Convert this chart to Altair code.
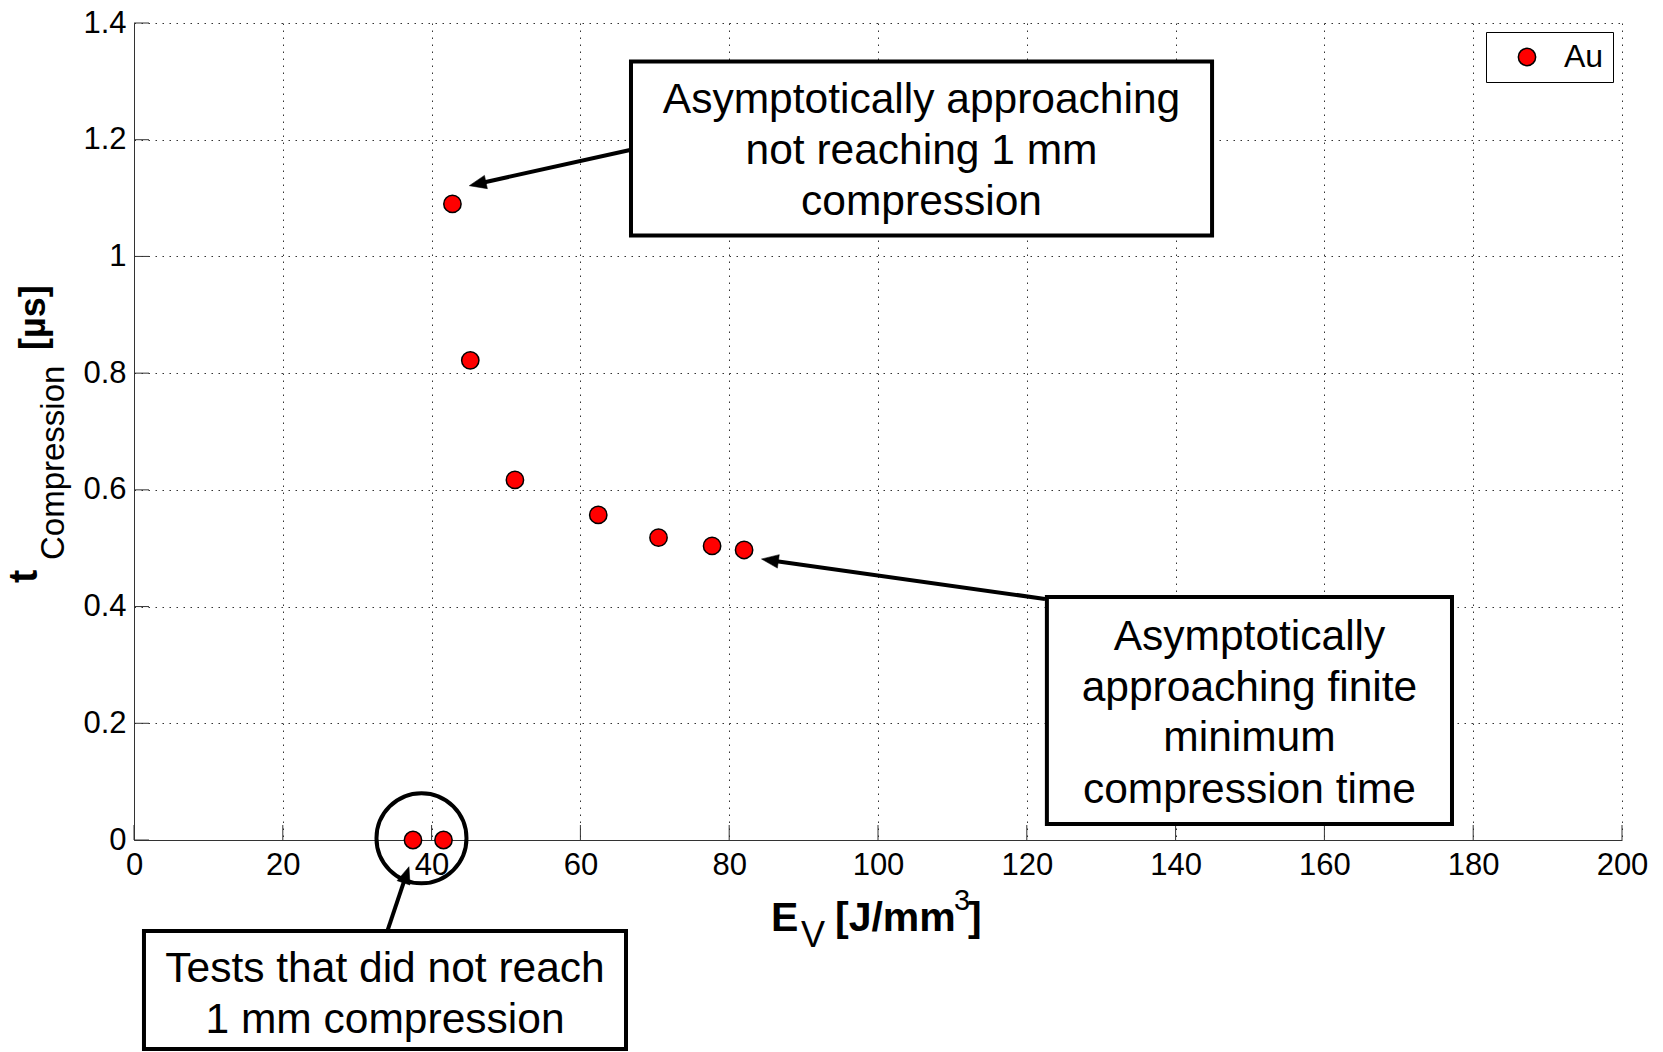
import altair as alt
import pandas as pd

FONT = "Liberation Sans"

# ---- data series ----
EV = [37.5, 41.6, 42.8, 45.2, 51.2, 62.4, 70.5, 77.7, 82.0]
T_COMP = [0.0, 0.0, 1.09, 0.822, 0.617, 0.557, 0.518, 0.504, 0.497]
SERIES = ["Au"] * len(EV)

X_TICKS = [0, 20, 40, 60, 80, 100, 120, 140, 160, 180, 200]
Y_TICKS = [0, 0.2, 0.4, 0.6, 0.8, 1.0, 1.2, 1.4]

# ---- annotations (data units) ----
BOX_X1 = [66.8, 122.7, 1.34]
BOX_X2 = [144.9, 177.15, 66.13]
BOX_Y1 = [1.334, 0.4164, -0.156]
BOX_Y2 = [1.036, 0.0274, -0.358]

NOTE_TEXT = ["Asymptotically approaching", "not reaching 1 mm", "compression",
             "Asymptotically", "approaching finite", "minimum", "compression time",
             "Tests that did not reach", "1 mm compression"]
NOTE_X = [105.85, 105.85, 105.85, 149.93, 149.93, 149.93, 149.93, 33.74, 33.74]
NOTE_Y = [1.2676, 1.1803, 1.0931, 0.3472, 0.2600, 0.1744, 0.0855, -0.2217, -0.3090]

ARROW_X1 = [66.67, 122.45, 33.96]
ARROW_Y1 = [1.1824, 0.413, -0.1594]
ARROW_X2 = [46.38, 85.67, 36.53]
ARROW_Y2 = [1.1250, 0.4791, -0.0620]
HEAD_X = [45.07, 84.34, 36.96]
HEAD_Y = [1.1212, 0.4815, -0.0458]
HEAD_ANGLE = [257.5, 278.0, 18.6]

CIRCLE_X = [38.64]
CIRCLE_Y = [0.003]

W, H = 1488, 817

xs = alt.Scale(domain=[0, 200], nice=False, zero=False)
ys = alt.Scale(domain=[0, 1.4], nice=False, zero=False)

pts = pd.DataFrame({"ev": EV, "t": T_COMP, "series": SERIES})

grid_axis_common = dict(
    grid=True, gridColor="#333333", gridDash=[1.5, 5.5], gridWidth=1, gridOpacity=1,
    domain=True, domainColor="#333333", domainWidth=1,
    ticks=False, tickSize=0, labelFlush=False,
    labelFont=FONT, labelFontSize=31, labelColor="#000000",
    title=None,
)

base = alt.Chart(pts).mark_point(
    filled=True, size=300, stroke="black", strokeWidth=1.5, opacity=1, shape="circle"
).encode(
    x=alt.X("ev:Q", scale=xs, axis=alt.Axis(values=X_TICKS, labelPadding=10, format="d", **grid_axis_common)),
    y=alt.Y("t:Q", scale=ys, axis=alt.Axis(values=Y_TICKS, labelPadding=8, labelExpr="datum.value == 1 ? '1' : (datum.value == 0 ? '0' : format(datum.value, '.1f'))", **grid_axis_common)),
    color=alt.Color("series:N", scale=alt.Scale(domain=["Au"], range=["#ff0000"]),
                    legend=alt.Legend(title=None, orient="top-right", offset=9, padding=9,
                                      strokeColor="black", fillColor="white",
                                      labelFont=FONT, labelFontSize=32, labelColor="black",
                                      symbolType="circle", symbolSize=300,
                                      symbolStrokeColor="black", symbolStrokeWidth=1.5,
                                      symbolOffset=16, labelOffset=21, cornerRadius=0)),
)

xt = alt.Chart(pd.DataFrame({"v": X_TICKS})).mark_rule(color="#333333", strokeWidth=1).encode(
    x=alt.X("v:Q", scale=xs), y=alt.value(H), y2=alt.value(H - 15))
yt = alt.Chart(pd.DataFrame({"v": Y_TICKS})).mark_rule(color="#333333", strokeWidth=1).encode(
    y=alt.Y("v:Q", scale=ys), x=alt.value(0), x2=alt.value(15))

arrows = alt.Chart(pd.DataFrame({"x1": ARROW_X1, "y1": ARROW_Y1, "x2": ARROW_X2, "y2": ARROW_Y2})).mark_rule(
    color="black", strokeWidth=4).encode(
    x=alt.X("x1:Q", scale=xs), y=alt.Y("y1:Q", scale=ys), x2="x2:Q", y2="y2:Q")

heads = alt.Chart(pd.DataFrame({"x": HEAD_X, "y": HEAD_Y, "a": HEAD_ANGLE})).mark_point(
    shape="M0,0 L-0.4,1 L0.4,1 Z", filled=True, fill="black", stroke="black", strokeWidth=0.5,
    size=1156, opacity=1).encode(
    x=alt.X("x:Q", scale=xs), y=alt.Y("y:Q", scale=ys), angle=alt.Angle("a:Q", scale=None))

boxes = alt.Chart(pd.DataFrame({"x1": BOX_X1, "x2": BOX_X2, "y1": BOX_Y1, "y2": BOX_Y2})).mark_rect(
    fill="white", stroke="black", strokeWidth=4).encode(
    x=alt.X("x1:Q", scale=xs), x2="x2:Q", y=alt.Y("y1:Q", scale=ys), y2="y2:Q")

notes = alt.Chart(pd.DataFrame({"x": NOTE_X, "y": NOTE_Y, "txt": NOTE_TEXT})).mark_text(
    font=FONT, fontSize=42.5, color="black", align="center", baseline="middle").encode(
    x=alt.X("x:Q", scale=xs), y=alt.Y("y:Q", scale=ys), text="txt:N")

circle = alt.Chart(pd.DataFrame({"x": CIRCLE_X, "y": CIRCLE_Y})).mark_point(
    shape="circle", filled=False, stroke="black", strokeWidth=4, size=8100, opacity=1).encode(
    x=alt.X("x:Q", scale=xs), y=alt.Y("y:Q", scale=ys))

one = pd.DataFrame({"k": [0]})


def label(text, x, y, size, weight, angle=0):
    return alt.Chart(one).mark_text(
        text=text, align="left", baseline="alphabetic", font=FONT, fontSize=size,
        fontWeight=weight, angle=angle, color="black").encode(x=alt.value(x), y=alt.value(y))


titles = [
    label("E", 637, 908, 41, "bold"),
    label("V", 667, 924, 36, "normal"),
    label("[J/mm", 701, 908, 41, "bold"),
    label("3", 820, 887, 29, "normal"),
    label("]", 834, 908, 41, "bold"),
    label("t", -97, 560, 40, "bold", 270),
    label("Compression", -70, 537, 33, "normal", 270),
    label("[µs]", -89, 327, 36, "bold", 270),
]

chart = alt.layer(base, xt, yt, arrows, heads, boxes, notes, circle, *titles).properties(
    width=W, height=H,
    autosize=alt.AutoSizeParams(type="none"),
    padding={"left": 134, "top": 23, "right": 41, "bottom": 212},
    background="white",
).configure_view(stroke=None)

chart.save("out.html", embed_options={"renderer": "svg", "actions": False})
